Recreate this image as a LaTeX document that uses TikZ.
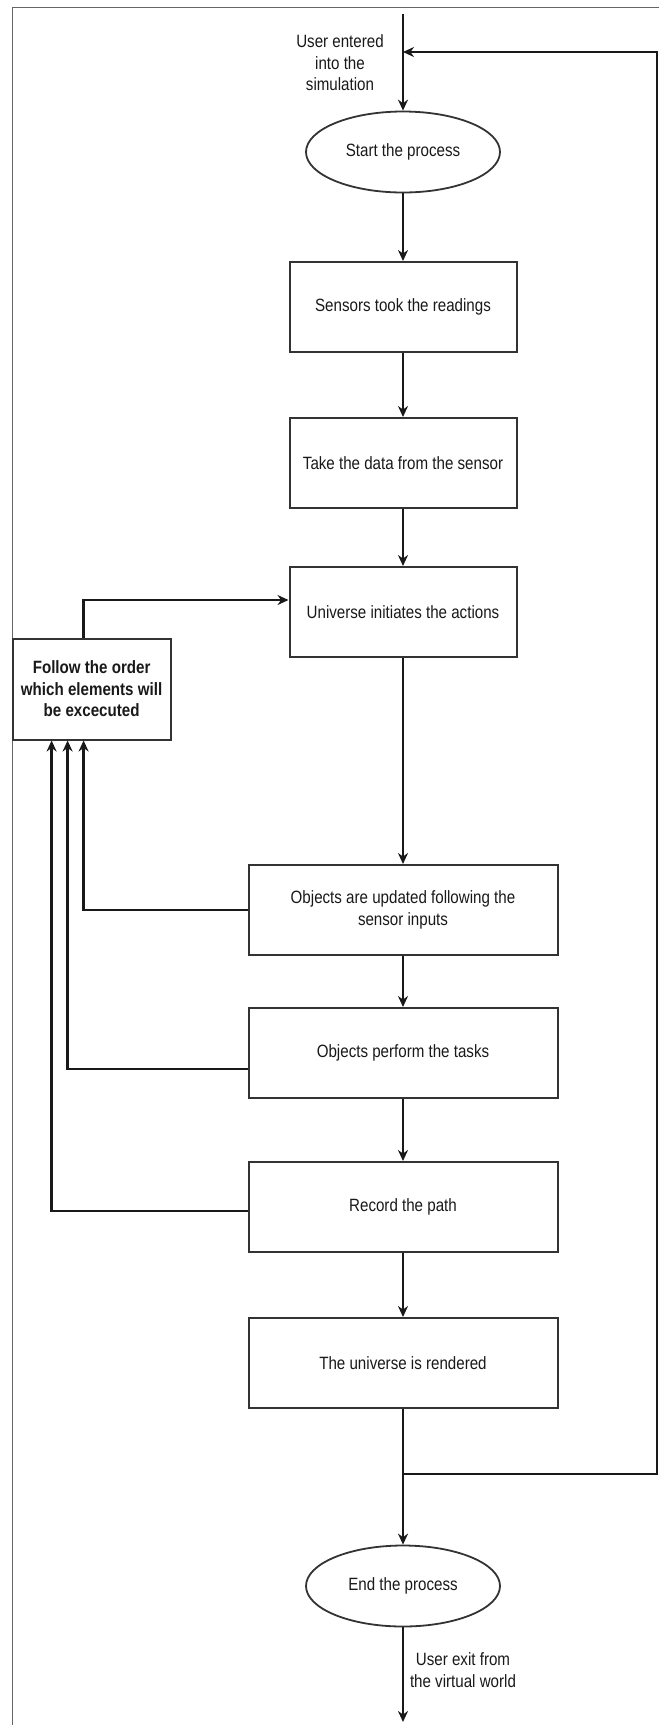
\documentclass[tikz,border=0pt]{standalone}
\usepackage{fontspec}
\setmainfont{Liberation Sans}[FakeStretch=0.85]
\usetikzlibrary{arrows.meta,positioning,shapes.geometric}

\begin{document}
\begin{tikzpicture}[x=1pt,y=-1pt,
  every node/.style={font=\fontsize{17.8}{21.5}\selectfont, text=black!90},
  stepbox/.style={draw=black!80, line width=2pt, minimum width=227pt, minimum height=90pt, inner sep=0pt},
  widebox/.style={stepbox, minimum width=309pt},
  terminal/.style={ellipse, draw=black!80, line width=1.8pt, minimum width=194pt, minimum height=81pt, inner sep=0pt},
  flow/.style={draw=black!90, line width=2.6pt, -{Stealth[length=11pt,width=10pt]}},
  note/.style={align=center, inner sep=0pt}]
  \useasboundingbox (0,0) rectangle (659,1725);

  % Frame
  \draw[black!60, line width=1.2pt] (12.6,1725) -- (12.6,7.5) -- (659,7.5);

  % Main column
  \node[terminal] (start) at (403,152) {Start the process};
  \node[stepbox] (sensor) at (403,307) {Sensors took the readings};
  \node[stepbox] (take) at (403,463) {Take the data from the sensor};
  \node[stepbox] (univ) at (403,612) {Universe initiates the actions};
  \node[widebox, align=center] (objupd) at (403,910) {Objects are updated following the\\sensor inputs};
  \node[widebox] (objtask) at (403,1053) {Objects perform the tasks};
  \node[widebox] (record) at (403,1207) {Record the path};
  \node[widebox] (render) at (403,1363) {The universe is rendered};
  \node[terminal] (finish) at (403,1586) {End the process};

  % Side box
  \node[draw=black!80, line width=2pt, minimum width=158pt, minimum height=101pt, inner sep=0pt,
        align=center, font=\fontsize{17.8}{21.5}\selectfont\bfseries] (order) at (91.6,689) {Follow the order\\which elements will\\be excecuted};

  % Entry and exit
  \coordinate (entry) at (403,14);
  \coordinate (merge) at (403,52);
  \coordinate (split) at (403,1474);
  \coordinate (rturn) at (657,1474);
  \coordinate (exit) at (403,1722);
  \node[note] (inlbl) at (340,63) {User entered\\into the\\simulation};
  \node[note] (outlbl) at (463,1670) {User exit from\\the virtual world};

  % Flow
  \draw[flow] (entry) -- (start);
  \draw[flow] (start) -- (sensor);
  \draw[flow] (sensor) -- (take);
  \draw[flow] (take) -- (univ);
  \draw[flow] (univ) -- (objupd);
  \draw[flow] (objupd) -- (objtask);
  \draw[flow] (objtask) -- (record);
  \draw[flow] (record) -- (render);
  \draw[flow] (render) -- (finish);
  \draw[flow] (finish) -- (exit);
  \draw[flow] (split) -- (rturn) |- (merge);

  % Back to the order box
  \draw[flow] (objupd.west) -| ([xshift=-8pt]order.south);
  \draw[flow] ([yshift=-16pt]objtask.west) -| ([xshift=-24pt]order.south);
  \draw[flow] ([yshift=-4pt]record.west) -| ([xshift=-40pt]order.south);
  \draw[flow] ([xshift=-8pt]order.north) |- ([yshift=12pt]univ.west);
\end{tikzpicture}
\end{document}
